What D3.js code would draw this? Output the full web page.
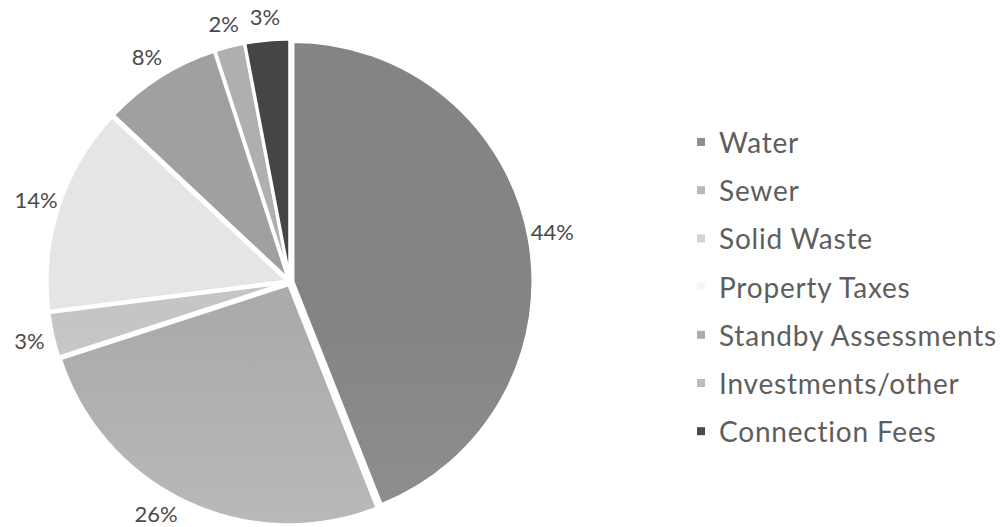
<!DOCTYPE html>
<html lang="en">
<head>
<meta charset="utf-8">
<title>Revenue sources</title>
<script src="https://cdn.jsdelivr.net/npm/d3@7"></script>
<style>
  body { margin: 0; background: #fff; }
  text { font-family: Lato, "Open Sans", sans-serif; }
</style>
</head>
<body>
<div class="chart"></div>
<script>
// chart data
const categories = ["Water", "Sewer", "Solid Waste", "Property Taxes",
                    "Standby Assessments", "Investments/other", "Connection Fees"];
const shares = [44, 26, 3, 14, 8, 2, 3];
const labels = ["44%", "26%", "3%", "14%", "8%", "2%", "3%"];
const greys = ["#8e8e8e", "#b8b8b8", "#d4d4d4", "#f6f6f6", "#acacac", "#bcbcbc", "#4a4a4a"];

const width = 1007, height = 527;
const cx = 290, cy = 282, radius = 240;
const labelR = 267;

const svg = d3.select(".chart").append("svg")
    .attr("width", width)
    .attr("height", height);

const data = categories.map((c, i) => ({name: c, value: shares[i], label: labels[i], color: greys[i]}));

// vertical shading, darker on top like the original fills
const defs = svg.append("defs");
data.forEach((d, i) => {
    const grad = defs.append("linearGradient")
        .attr("id", "grad" + i)
        .attr("gradientUnits", "userSpaceOnUse")
        .attr("x1", 0).attr("y1", cy - radius)
        .attr("x2", 0).attr("y2", cy + radius);
    grad.append("stop").attr("offset", "0%").attr("stop-color", d3.color(d.color).darker(0.2));
    grad.append("stop").attr("offset", "100%").attr("stop-color", d3.color(d.color).brighter(0.3));
});

const pie = d3.pie().sort(null).value(d => d.value);
const arcs = pie(data);

const arc = d3.arc().innerRadius(0).outerRadius(radius);

const g = svg.append("g").attr("transform", `translate(${cx},${cy})`);

// slightly exploded slices
g.selectAll("path.slice")
    .data(arcs)
    .enter()
    .append("path")
    .attr("class", "slice")
    .attr("d", arc)
    .attr("fill", (d, i) => `url(#grad${i})`)
    .attr("stroke", "#fff")
    .attr("stroke-width", 3)
    .attr("transform", d => {
        const mid = (d.startAngle + d.endAngle) / 2;
        const off = 3;
        return `translate(${off * Math.sin(mid)},${-off * Math.cos(mid)})`;
    });

const pct = g.selectAll("text.pct")
    .data(arcs)
    .enter()
    .append("text")
    .attr("class", "pct")
    .attr("text-anchor", "middle")
    .attr("dominant-baseline", "central")
    .attr("font-size", "22px")
    .attr("fill", "#4a4a4a")
    .text(d => d.data.label);

// place labels on a circle, sliding them along it to stay inside the frame
pct.attr("transform", function(d) {
    const mid = (d.startAngle + d.endAngle) / 2;
    const half = this.getComputedTextLength() / 2;
    let x = labelR * Math.sin(mid), y = -labelR * Math.cos(mid);
    const minX = 10 + half - cx;
    const maxY = 513 - cy;
    if (x < minX) {
        x = minX;
        y = Math.sign(y) * Math.sqrt(labelR * labelR - x * x);
    }
    if (y > maxY) {
        y = maxY;
        x = Math.sign(x) * Math.sqrt(labelR * labelR - y * y);
    }
    return `translate(${x},${y})`;
});

// legend
const legend = svg.append("g").attr("transform", "translate(697,142)");

const rows = legend.selectAll("g")
    .data(data)
    .enter()
    .append("g")
    .attr("transform", (d, i) => `translate(0,${i * 48.2})`);

rows.append("rect")
    .attr("x", 0)
    .attr("y", -4)
    .attr("width", 8)
    .attr("height", 8)
    .attr("fill", d => d.color);

rows.append("text")
    .attr("x", 22)
    .attr("dominant-baseline", "central")
    .attr("font-size", "28px")
    .attr("letter-spacing", "0.8px")
    .attr("fill", "#5e5e5e")
    .text(d => d.name);
</script>
</body>
</html>
